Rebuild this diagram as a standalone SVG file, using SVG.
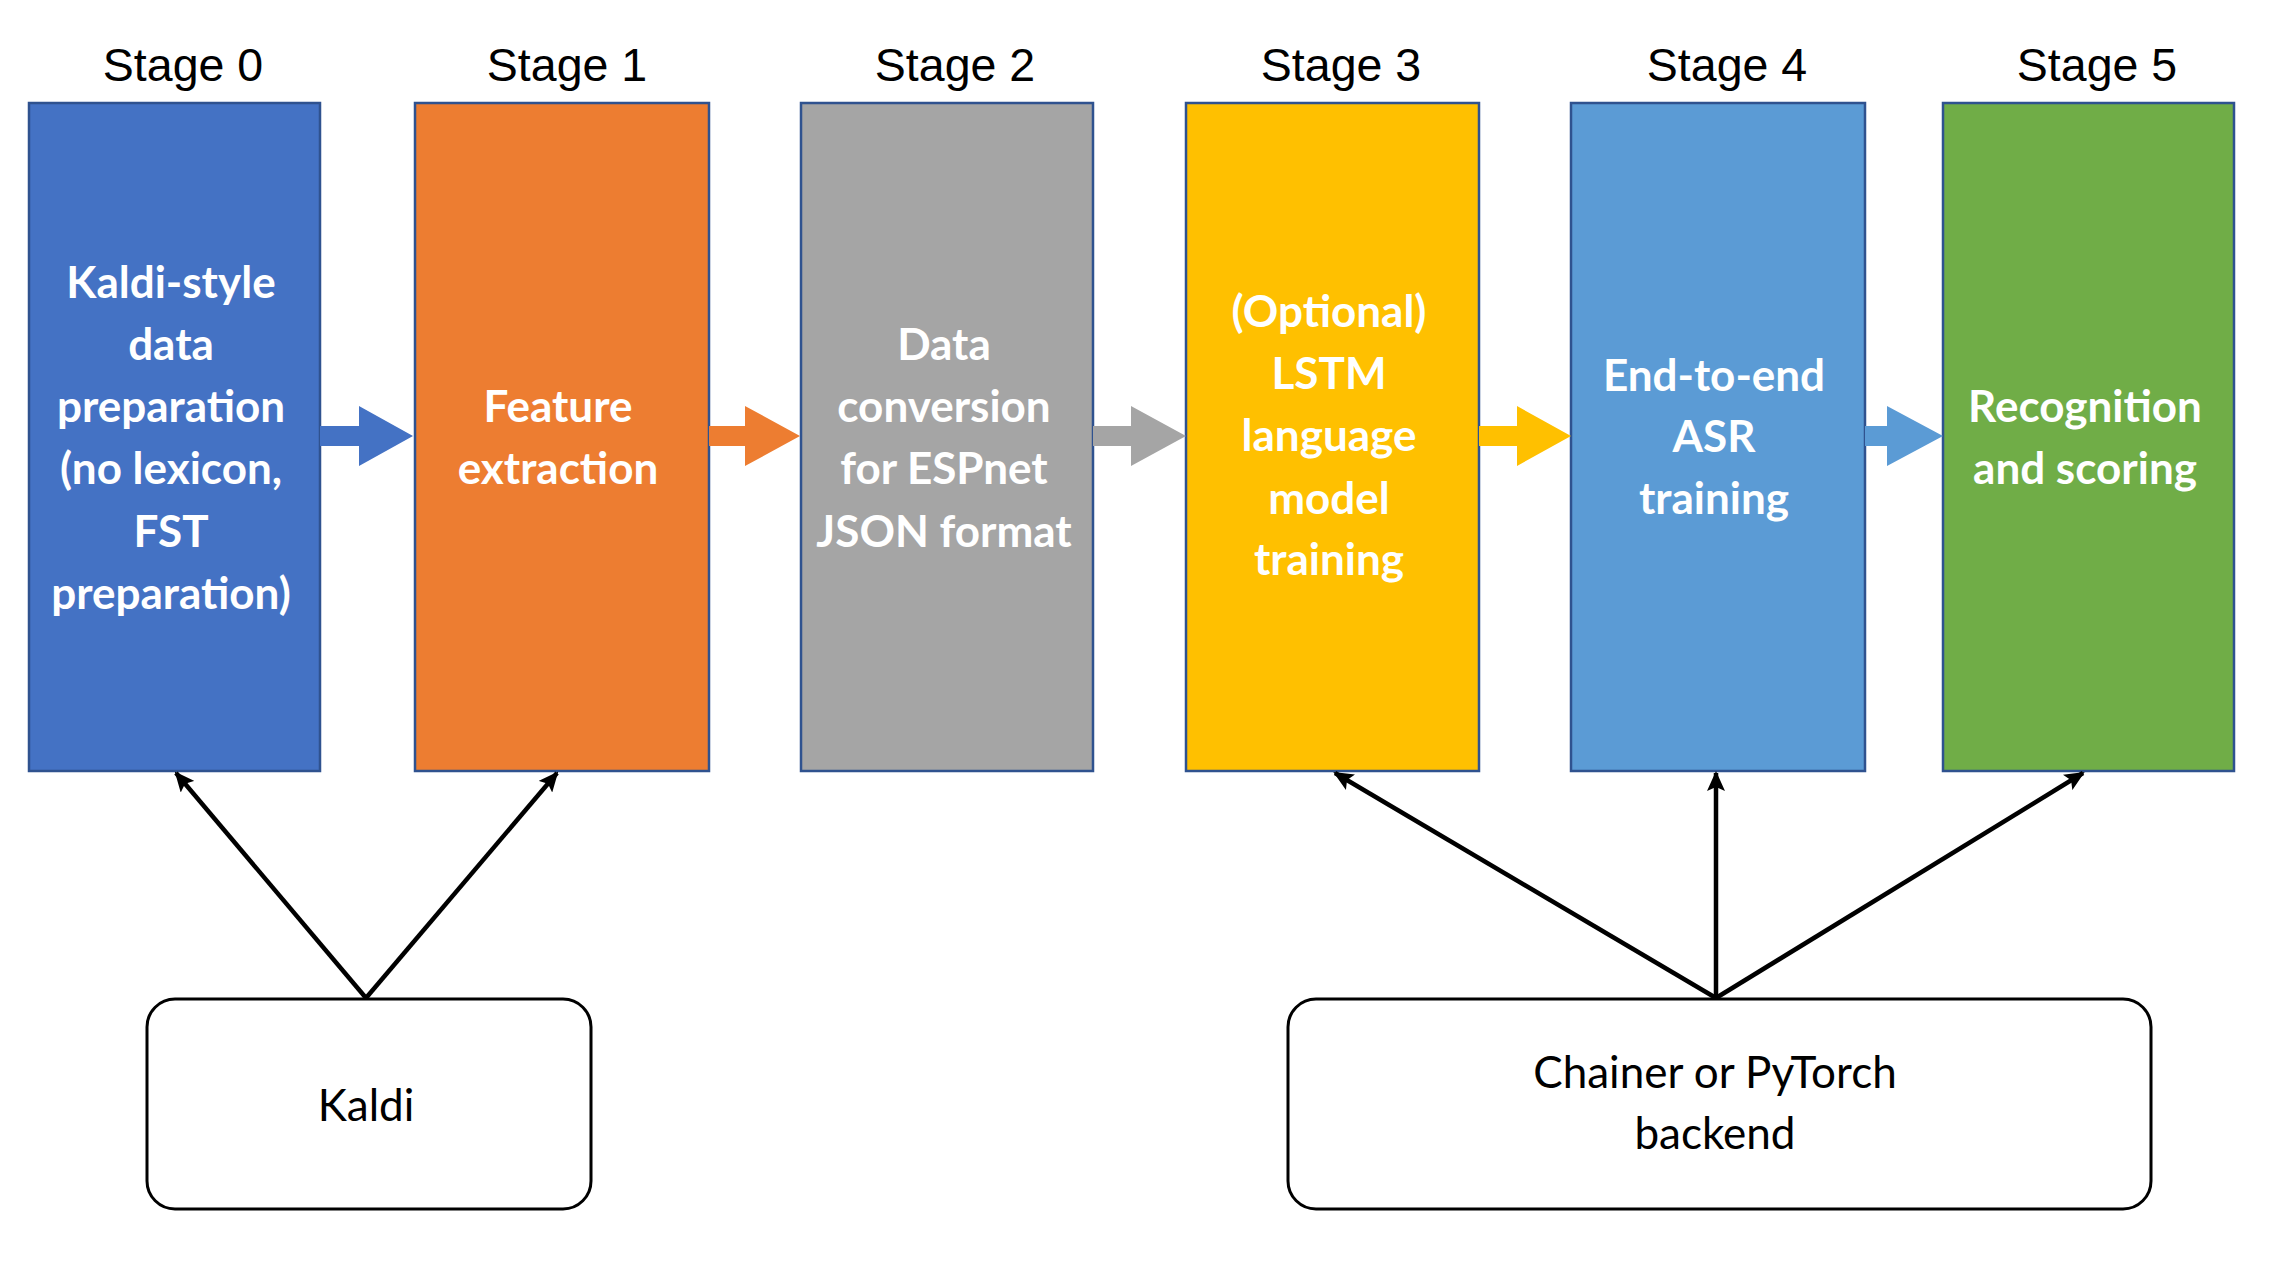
<svg xmlns="http://www.w3.org/2000/svg" width="2275" height="1264" viewBox="0 0 2275 1264">
<defs>
<style>
.stage{font-family:"Liberation Sans",Arial,sans-serif;font-size:46.5px;fill:#000;text-anchor:middle}
.box{stroke:#2F528F;stroke-width:2.5}
.bt{font-family:Lato,"Open Sans",sans-serif;font-weight:bold;font-size:44px;fill:#fff;text-anchor:middle}
.rt{font-family:Lato,"Open Sans",sans-serif;font-size:44px;fill:#000;text-anchor:middle}
.rbox{fill:#fff;stroke:#000;stroke-width:3}
.conn{stroke:#000;stroke-width:4.5;fill:none;marker-end:url(#ah)}
</style>
<marker id="ah" markerUnits="userSpaceOnUse" markerWidth="20" markerHeight="18" refX="18" refY="9" orient="auto">
<path d="M0,0 L20,9 L0,18 L4,9 Z" fill="#000"/>
</marker>
</defs>
<rect width="2275" height="1264" fill="#fff"/>

<g id="stage0">
<text class="stage" x="183" y="81">Stage 0</text>
<rect class="box" x="29" y="103" width="291" height="668" fill="#4472C4"/>
<text class="bt" x="171" y="298">Kaldi-style</text>
<text class="bt" x="171" y="360">data</text>
<text class="bt" x="171" y="422">preparation</text>
<text class="bt" x="171" y="484">(no lexicon,</text>
<text class="bt" x="171" y="547">FST</text>
<text class="bt" x="171" y="609">preparation)</text>
</g>

<g id="stage1">
<text class="stage" x="567" y="81">Stage 1</text>
<rect class="box" x="415" y="103" width="294" height="668" fill="#ED7D31"/>
<text class="bt" x="558" y="422">Feature</text>
<text class="bt" x="558" y="484">extraction</text>
</g>

<g id="stage2">
<text class="stage" x="955" y="81">Stage 2</text>
<rect class="box" x="801" y="103" width="292" height="668" fill="#A5A5A5"/>
<text class="bt" x="944" y="360">Data</text>
<text class="bt" x="944" y="422">conversion</text>
<text class="bt" x="944" y="484">for ESPnet</text>
<text class="bt" x="944" y="547">JSON format</text>
</g>

<g id="stage3">
<text class="stage" x="1341" y="81">Stage 3</text>
<rect class="box" x="1186" y="103" width="293" height="668" fill="#FFC000"/>
<text class="bt" x="1329" y="327">(Optional)</text>
<text class="bt" x="1329" y="389">LSTM</text>
<text class="bt" x="1329" y="451">language</text>
<text class="bt" x="1329" y="514">model</text>
<text class="bt" x="1329" y="575">training</text>
</g>

<g id="stage4">
<text class="stage" x="1727" y="81">Stage 4</text>
<rect class="box" x="1571" y="103" width="294" height="668" fill="#5B9BD5"/>
<text class="bt" x="1714" y="391">End-to-end</text>
<text class="bt" x="1714" y="452">ASR</text>
<text class="bt" x="1714" y="514">training</text>
</g>

<g id="stage5">
<text class="stage" x="2097" y="81">Stage 5</text>
<rect class="box" x="1943" y="103" width="291" height="668" fill="#70AD47"/>
<text class="bt" x="2085" y="422">Recognition</text>
<text class="bt" x="2085" y="484">and scoring</text>
</g>

<g id="kaldi">
<rect class="rbox" x="147" y="999" width="444" height="210" rx="28" ry="28"/>
<text class="rt" x="366" y="1121">Kaldi</text>
</g>

<g id="backend">
<rect class="rbox" x="1288" y="999" width="863" height="210" rx="28" ry="28"/>
<text class="rt" x="1715" y="1088">Chainer or PyTorch</text>
<text class="rt" x="1715" y="1149">backend</text>
</g>

<g id="connectors">
<path d="M320,426 H359 V406 L413,436 L359,466 V446 H320 Z" fill="#4472C4"/>
<path d="M709,426 H745 V406 L800,436 L745,466 V446 H709 Z" fill="#ED7D31"/>
<path d="M1093,426 H1131 V406 L1186,436 L1131,466 V446 H1093 Z" fill="#A5A5A5"/>
<path d="M1479,426 H1517 V406 L1571,436 L1517,466 V446 H1479 Z" fill="#FFC000"/>
<path d="M1865,426 H1887 V406 L1943,436 L1887,466 V446 H1865 Z" fill="#5B9BD5"/>
<line class="conn" x1="366" y1="998" x2="176" y2="773"/>
<line class="conn" x1="366" y1="998" x2="557" y2="773"/>
<line class="conn" x1="1716" y1="998" x2="1335" y2="773"/>
<line class="conn" x1="1716" y1="998" x2="1716" y2="773"/>
<line class="conn" x1="1716" y1="998" x2="2083" y2="773"/>
</g>
</svg>
